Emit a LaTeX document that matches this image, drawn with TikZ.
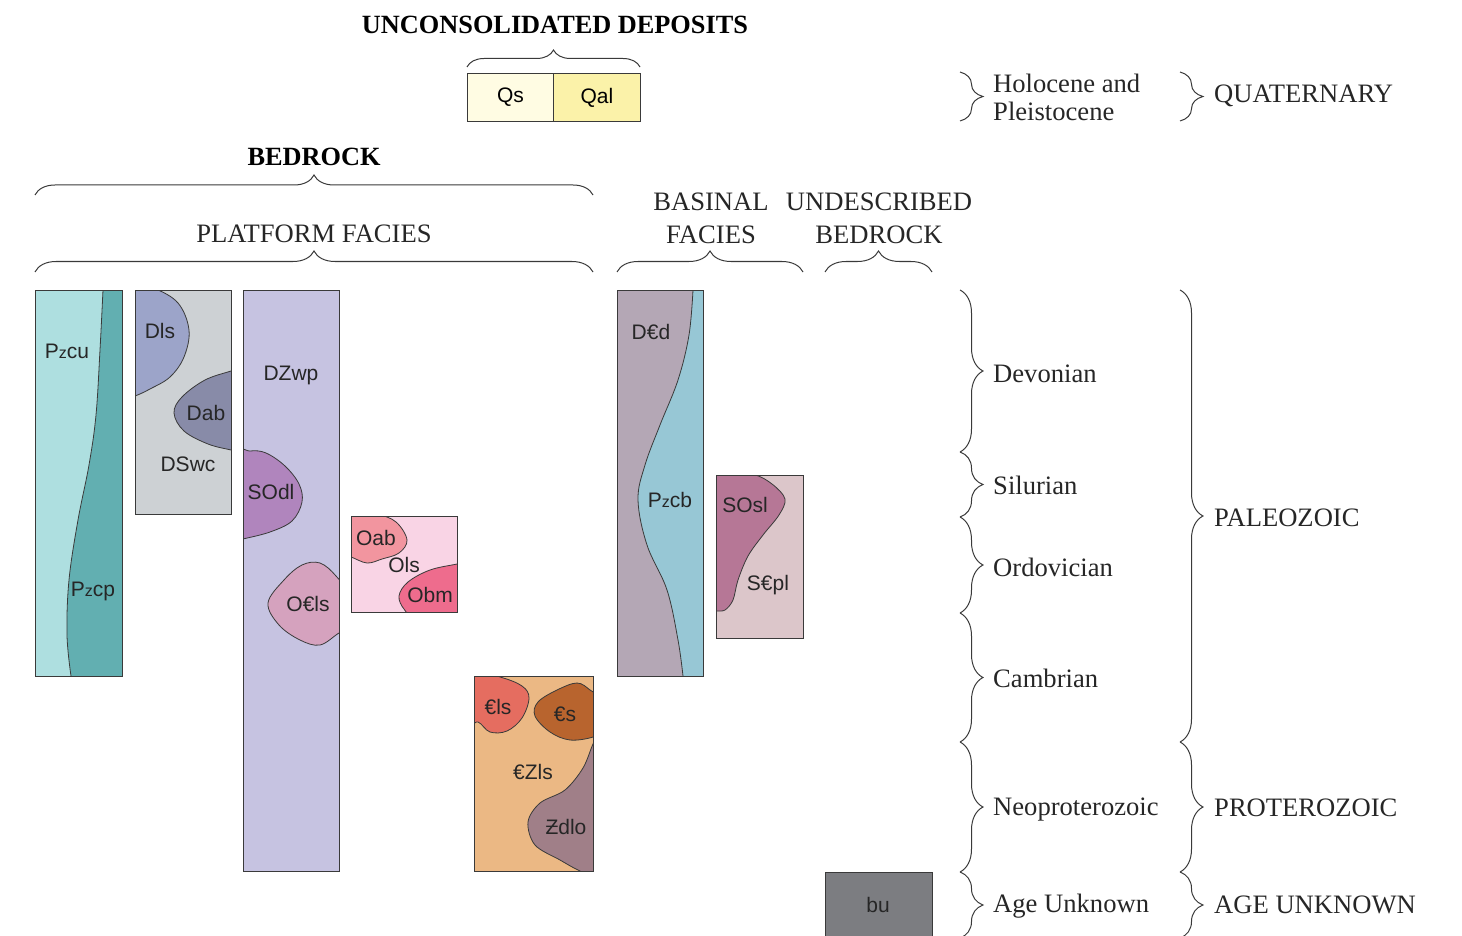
\documentclass[tikz,border=0pt]{standalone}
\usepackage{fontspec}
\setmainfont{Liberation Serif}
\newfontfamily\boxfont{Liberation Sans}
\usetikzlibrary{decorations.pathreplacing}
\definecolor{cQs}{HTML}{FFFCE3}
\definecolor{cQal}{HTML}{FBF2A9}
\definecolor{cPzcu}{HTML}{AEDFE0}
\definecolor{cPzcp}{HTML}{62AFB1}
\definecolor{cDSwc}{HTML}{CDD1D4}
\definecolor{cDls}{HTML}{9CA4C9}
\definecolor{cDab}{HTML}{888BA8}
\definecolor{cDZwp}{HTML}{C6C3E1}
\definecolor{cSOdl}{HTML}{B085BD}
\definecolor{cOCls}{HTML}{D5A2BE}
\definecolor{cOls}{HTML}{F9D4E5}
\definecolor{cOab}{HTML}{F2959F}
\definecolor{cObm}{HTML}{EE6C8D}
\definecolor{cCZls}{HTML}{EBB884}
\definecolor{cCls}{HTML}{E56D60}
\definecolor{cCs}{HTML}{B8642E}
\definecolor{cZdlo}{HTML}{A07F88}
\definecolor{cDCd}{HTML}{B4A7B5}
\definecolor{cPzcb}{HTML}{97C7D5}
\definecolor{cSCpl}{HTML}{DCC6CA}
\definecolor{cSOsl}{HTML}{B67796}
\definecolor{cbu}{HTML}{7C7D81}
\definecolor{edge}{HTML}{3A3A3A}
\newcommand{\Pz}{P{\fontsize{16}{16}\selectfont z}}
\tikzset{
  unitlbl/.style={font=\boxfont\fontsize{21}{21}\selectfont, inner sep=0pt, text=black!85},
  serif/.style={font=\fontsize{26.6}{33}\selectfont, inner sep=0pt, text=black!85},
  serifb/.style={font=\bfseries\fontsize{26.3}{33}\selectfont, inner sep=0pt, text=black},
  boxedge/.style={draw=edge, line width=0.9pt},
  blob/.style={draw=edge, line width=0.8pt},
  brc/.style={draw=edge, line width=1pt, decorate, decoration={brace, amplitude=#1}},
  brc/.default=21pt
}
\begin{document}
\begin{tikzpicture}[x=1pt,y=-1pt]
\useasboundingbox (0,0) rectangle (1462,936);

% ---------- top: unconsolidated deposits ----------
\node[serifb] (tUD) at (555,25) {UNCONSOLIDATED DEPOSITS};
\draw[brc=17pt] (467,67) -- (640,67);
\node[boxedge, fill=cQs, minimum width=86pt, minimum height=48pt, inner sep=0pt, anchor=north west,
  font=\boxfont\fontsize{21}{21}\selectfont] (Qs) at (467,73) {Qs};
\node[boxedge, fill=cQal, minimum width=87pt, minimum height=48pt, inner sep=0pt, anchor=north west,
  font=\boxfont\fontsize{21}{21}\selectfont] (Qal) at (553,73) {Qal};

% ---------- headings ----------
\node[serifb] (tBR) at (314,157) {BEDROCK};
\draw[brc=20pt] (35,195) -- (593,195);
\node[serif] (tPF) at (314,234) {PLATFORM FACIES};
\draw[brc=21pt] (35,272) -- (593,272);
\node[serif, align=center] (tBF) at (711,218) {BASINAL\\FACIES};
\draw[brc=21pt] (617,272) -- (803,272);
\node[serif, align=center] (tUB) at (879,218) {UNDESCRIBED\\BEDROCK};
\draw[brc=21pt] (825,272) -- (932,272);

% ---------- Pzcu / Pzcp ----------
\begin{scope}
\clip (35,290) rectangle (122,676);
\fill[cPzcp] (35,290) rectangle (122,676);
\draw[blob, fill=cPzcu] (25,280) -- (103,280) -- plot[smooth, tension=0.6] coordinates
  {(103,290) (100,350) (96,415) (89,465) (78,520) (69,580) (67,635) (71,676)}
  -- (71,690) -- (25,690) -- cycle;
\end{scope}
\draw[boxedge] (35,290) rectangle (122,676);
\node[unitlbl] (Pzcu) at (67,351) {\Pz cu};
\node[unitlbl] (Pzcp) at (93,591) {\Pz cp};

% ---------- DSwc ----------
\begin{scope}
\clip (135,290) rectangle (231,514);
\fill[cDSwc] (135,290) rectangle (231,514);
\draw[blob, fill=cDls] plot[smooth cycle, tension=0.6] coordinates
  {(125,283) (153,288) (178,303) (189,330) (184,357) (170,377) (150,389) (135,396) (125,398)};
\draw[blob, fill=cDab] plot[smooth cycle, tension=0.6] coordinates
  {(240,368) (231,371) (205,380) (182,397) (174,413) (184,431) (208,444) (231,450) (240,452)};
\end{scope}
\draw[boxedge] (135,290) rectangle (231,514);
\node[unitlbl] (Dls) at (160,331) {Dls};
\node[unitlbl] (Dab) at (206,413) {Dab};
\node[unitlbl] (DSwc) at (188,464) {DSwc};

% ---------- DZwp ----------
\begin{scope}
\clip (243,290) rectangle (339,871);
\fill[cDZwp] (243,290) rectangle (339,871);
\draw[blob, fill=cSOdl] plot[smooth cycle, tension=0.6] coordinates
  {(234,456) (250,451) (266,453) (285,466) (299,484) (302,502) (292,521) (270,532) (243,539) (234,541)};
\draw[blob, fill=cOCls] plot[smooth cycle, tension=0.6] coordinates
  {(348,595) (336,576) (320,563) (302,565) (284,580) (268,603) (279,625) (300,640) (320,645) (339,633) (348,630)};
\end{scope}
\draw[boxedge] (243,290) rectangle (339,871);
\node[unitlbl] (DZwp) at (291,375) {DZwp};
\node[unitlbl] (SOdl) at (271,492) {SOdl};
\node[unitlbl] (OCls) at (308,604) {O€ls};

% ---------- Ols ----------
\begin{scope}
\clip (351,516) rectangle (457,612);
\fill[cOls] (351,516) rectangle (457,612);
\draw[blob, fill=cOab] plot[smooth cycle, tension=0.6] coordinates
  {(343,510) (376,514) (396,522) (407,540) (399,553) (382,559) (367,563) (351,557) (343,556)};
\draw[blob, fill=cObm] plot[smooth cycle, tension=0.6] coordinates
  {(465,562) (457,564) (430,570) (408,582) (399,596) (404,609) (414,614) (465,618)};
\end{scope}
\draw[boxedge] (351,516) rectangle (457,612);
\node[unitlbl] (Oab) at (376,538) {Oab};
\node[unitlbl] (Ols) at (404,565) {Ols};
\node[unitlbl] (Obm) at (430,595) {Obm};

% ---------- CZls ----------
\begin{scope}
\clip (474,676) rectangle (593,871);
\fill[cCZls] (474,676) rectangle (593,871);
\draw[blob, fill=cCls] plot[smooth cycle, tension=0.6] coordinates
  {(466,670) (500,677) (522,686) (529,698) (522,718) (507,731) (490,732) (478,722) (466,724)};
\draw[blob, fill=cCs] plot[smooth cycle, tension=0.6] coordinates
  {(600,700) (590,690) (577,683) (557,690) (538,702) (535,716) (550,732) (570,740) (593,737) (600,730)};
\draw[blob, fill=cZdlo] plot[smooth cycle, tension=0.55] coordinates
  {(600,732) (593,744) (583,768) (565,790) (540,803) (528,822) (535,845) (560,860) (580,871) (600,878)};
\end{scope}
\draw[boxedge] (474,676) rectangle (593,871);
\node[unitlbl] (Cls) at (498,707) {€ls};
\node[unitlbl] (Cs) at (565,714) {€s};
\node[unitlbl] (CZls) at (533,772) {€Zls};
\node[unitlbl] (Zdlo) at (566,827) {Ƶdlo};

% ---------- DCd / Pzcb ----------
\begin{scope}
\clip (617,290) rectangle (703,676);
\fill[cDCd] (617,290) rectangle (703,676);
\draw[blob, fill=cPzcb] (712,280) -- (693,280) -- plot[smooth, tension=0.6] coordinates
  {(693,290) (689,335) (678,380) (660,425) (645,465) (638,500) (647,545) (667,590) (678,640) (683,676)}
  -- (683,690) -- (712,690) -- cycle;
\end{scope}
\draw[boxedge] (617,290) rectangle (703,676);
\node[unitlbl] (DCd) at (651,332) {D€d};
\node[unitlbl] (Pzcb) at (670,500) {\Pz cb};

% ---------- SCpl ----------
\begin{scope}
\clip (716,475) rectangle (803,638);
\fill[cSCpl] (716,475) rectangle (803,638);
\draw[blob, fill=cSOsl] plot[smooth cycle, tension=0.55] coordinates
  {(708,468) (752,474) (772,484) (785,499) (779,515) (763,535) (748,556) (738,580) (733,600) (725,610) (716,611) (708,612)};
\end{scope}
\draw[boxedge] (716,475) rectangle (803,638);
\node[unitlbl] (SOsl) at (745,505) {SOsl};
\node[unitlbl] (SCpl) at (768,585) {S€pl};

% ---------- bu ----------
\node[boxedge, fill=cbu, minimum width=107pt, minimum height=66pt, inner sep=0pt, anchor=north west] (bu) at (825,872) {};
\node[unitlbl] (bulbl) at (878,905) {bu};

% ---------- right braces: periods ----------
\draw[brc=23pt] (960,72) -- (960,121);
\draw[brc=23pt] (960,290) -- (960,452);
\draw[brc=23pt] (960,452) -- (960,517);
\draw[brc=23pt] (960,517) -- (960,613);
\draw[brc=23pt] (960,613) -- (960,742);
\draw[brc=23pt] (960,742) -- (960,872);
\draw[brc=23pt] (960,872) -- (960,938);
\node[serif, align=left, anchor=west] (tHol) at (993,97) {Holocene and\\[-5pt]Pleistocene};
\node[serif, anchor=west] (tDev) at (993,374) {Devonian};
\node[serif, anchor=west] (tSil) at (993,485) {Silurian};
\node[serif, anchor=west] (tOrd) at (993,567) {Ordovician};
\node[serif, anchor=west] (tCam) at (993,678) {Cambrian};
\node[serif, anchor=west] (tNeo) at (993,810) {Neoproterozoic};
\node[serif, anchor=west] (tAU1) at (993,906) {Age Unknown};

% ---------- right braces: eras ----------
\draw[brc=23pt] (1180,72) -- (1180,121);
\draw[brc=23pt] (1180,290) -- (1180,742);
\draw[brc=23pt] (1180,742) -- (1180,872);
\draw[brc=23pt] (1180,872) -- (1180,938);
\node[serif, anchor=west] (tQua) at (1214,96) {QUATERNARY};
\node[serif, anchor=west] (tPal) at (1214,518) {PALEOZOIC};
\node[serif, anchor=west] (tPro) at (1214,808) {PROTEROZOIC};
\node[serif, anchor=west] (tAU2) at (1214,905) {AGE UNKNOWN};
\end{tikzpicture}
\end{document}
